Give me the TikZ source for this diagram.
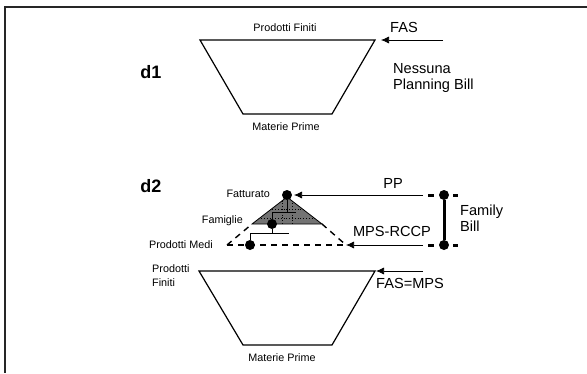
\documentclass[tikz,border=0pt]{standalone}
\usepackage{fontspec}
\setmainfont{Liberation Sans}
\usetikzlibrary{arrows.meta}
\begin{document}
\begin{tikzpicture}[x=1pt,y=-1pt,
 small/.style={font=\fontsize{10.8}{14}\selectfont, inner sep=0pt},
 big/.style={font=\fontsize{14.6}{16.5}\selectfont, inner sep=0pt},
 lbl/.style={font=\bfseries\fontsize{18}{20}\selectfont, inner sep=0pt},
 edge/.style={line width=1.2pt},
 arr/.style={line width=0.7pt, -{Latex[length=8pt,width=7pt]}},
 dotn/.style={circle, fill=black, minimum size=10pt, inner sep=0pt},
 dsh/.style={line width=1.4pt, dash pattern=on 6pt off 5pt},
 bar/.style={line width=3pt},
 tree/.style={line width=1pt},
]
\useasboundingbox (0,0) rectangle (587,373);
\draw[line width=2pt, black!85] (587,7) -- (5,7) -- (5,373);

% ---- d1 ----
\node[lbl] (d1) at (151,72) {d1};
\draw[edge] (200,40) -- (375,40) -- (332,114) -- (243,114) -- cycle;
\node[small] (pf1) at (285,28) {Prodotti Finiti};
\node[small] (mp1) at (286,127) {Materie Prime};
\node[big, anchor=west] (fas) at (390,27) {FAS};
\coordinate (fasS) at (443,40);
\coordinate (fasT) at (381,40);
\draw[arr] (fasS) -- (fasT);
\node[big, anchor=west, align=left] (npb) at (393,78) {Nessuna\\Planning Bill};

% ---- d2 ----
\node[lbl] (d2) at (151,186) {d2};

% gray triangle with dotted texture
\fill[black!55] (287,197) -- (252,224) -- (322,224) -- cycle;
\begin{scope}
 \clip (287,197) -- (252,224) -- (322,224) -- cycle;
 \foreach \yy in {209,218} \draw[dotted, line width=0.8pt] (250,\yy) -- (325,\yy);
 \foreach \xx in {282,292} \draw[dotted, line width=0.8pt] (\xx,195) -- (\xx,226);
\end{scope}
\draw[line width=0.8pt] (287,197) -- (252,224) -- (322,224) -- cycle;

% dashed lower trapezoid
\coordinate (dl) at (227,245);
\coordinate (dr) at (346,245);
\draw[dsh] (dl) -- (252,224);
\draw[dsh] (322,224) -- (dr);
\draw[dsh] (dl) -- (dr);

% tree
\node[dotn] (fat) at (287,195) {};
\node[dotn] (fam) at (272,224) {};
\node[dotn] (pm) at (250,245) {};
\draw[tree] (fat) -- (287,212);
\draw[tree] (272,212) -- (296,212);
\draw[tree] (272,212) -- (fam);
\draw[tree] (fam) -- (272,233);
\draw[tree] (250,233) -- (289,233);
\draw[tree] (250,233) -- (pm);

\node[small, anchor=east] (lfat) at (270,194) {Fatturato};
\node[small, anchor=east] (lfam) at (243,221) {Famiglie};
\node[small, anchor=east] (lpm) at (213,245) {Prodotti Medi};

% arrows PP and MPS-RCCP
\coordinate (ppS) at (423,195);
\coordinate (ppT) at (294,195);
\draw[arr] (ppS) -- (ppT);
\node[big] (pp) at (393,183) {PP};
\coordinate (mpS) at (423,245);
\draw[arr] (mpS) -- (dr);
\node[big] (mps) at (392,231) {MPS-RCCP};

% family bill
\node[dotn] (fbt) at (444,195) {};
\node[dotn] (fbb) at (444,245) {};
\draw[bar] (fbt) -- (fbb);
\draw[bar] (428,195) -- (434,195);
\draw[bar] (453,195) -- (458,195);
\draw[bar] (428,245) -- (434,245);
\draw[bar] (453,245) -- (458,245);
\node[big, anchor=west, align=left] (fb) at (460,218) {Family\\Bill};

% lower trapezoid
\draw[edge] (199,271) -- (375,271) -- (332,345) -- (243,345) -- cycle;
\node[small, anchor=west, align=left] (pf2) at (152,276) {Prodotti\\Finiti};
\node[small] (mp2) at (282,358) {Materie Prime};
\coordinate (fmS) at (423,271);
\coordinate (fmT) at (376,271);
\draw[arr] (fmS) -- (fmT);
\node[big, anchor=west] (fm) at (376,283) {FAS=MPS};
\end{tikzpicture}
\end{document}
